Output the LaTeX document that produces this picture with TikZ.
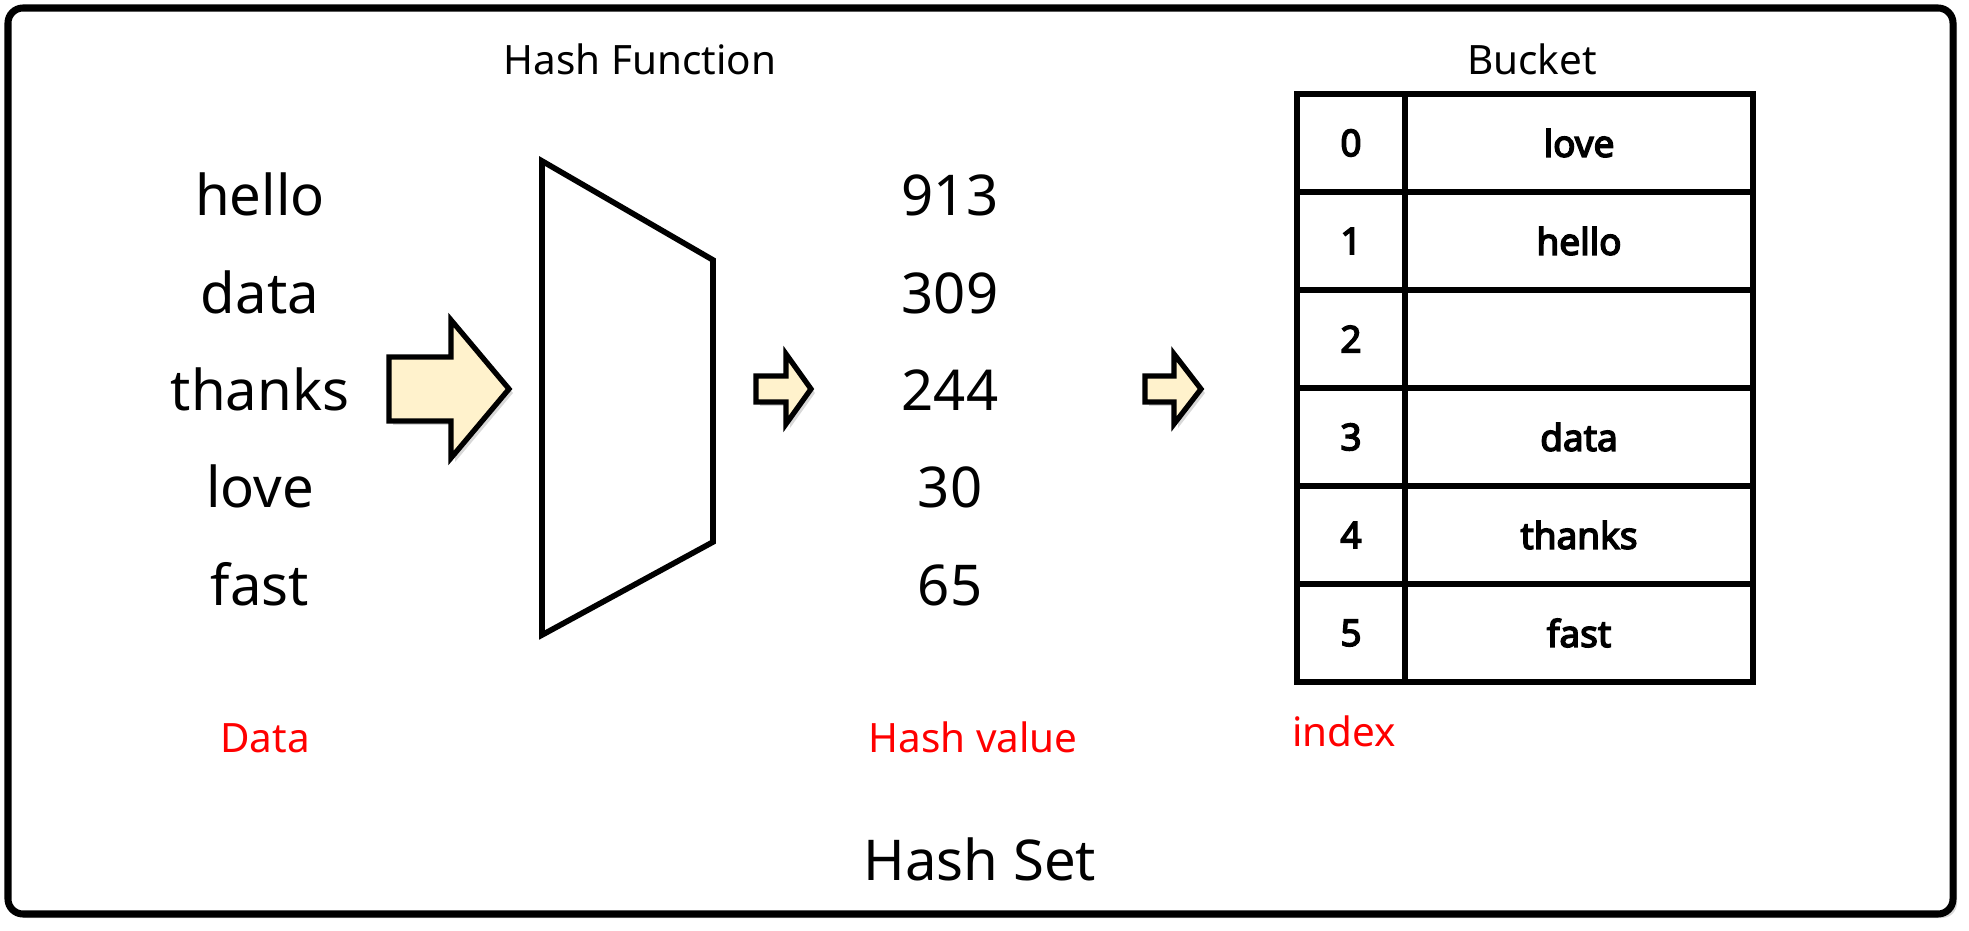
\documentclass[tikz,border=0pt]{standalone}
\usepackage{fontspec}
\setmainfont{Noto Sans}
\newfontfamily\cellfont{Noto Sans}[FakeBold=4]
\usetikzlibrary{shadows, positioning}
\definecolor{arrowfill}{HTML}{FFF2CC}

\tikzset{
  word/.style={font=\fontsize{16}{18}\selectfont, inner sep=0pt},
  small/.style={font=\fontsize{11.5}{13}\selectfont, inner sep=0pt},
  redlabel/.style={small, text=red},
  cell/.style={rectangle, draw, line width=1.7pt, inner sep=0pt, minimum height=0.98cm, font=\cellfont\fontsize{10.5}{12}\selectfont},
  blockarrow/.style={draw, line width=1.5pt, fill=arrowfill, line join=miter, drop shadow={shadow xshift=0.04cm, shadow yshift=-0.04cm, opacity=0.3}},
}

\begin{document}
\begin{tikzpicture}[x=0.01cm, y=-0.01cm]
    \useasboundingbox (0,0) rectangle (1969,931);

    % frame
    \path[draw, fill=white, line width=2pt, rounded corners=0.15cm, drop shadow={shadow xshift=0.04cm, shadow yshift=-0.04cm, opacity=0.3}] (8,8) rectangle (1953,914);

    % data words and hash values
    \foreach \w/\v [count=\i from 0] in {hello/913, data/309, thanks/244, love/30, fast/65} {
        \node (d\i) [word, anchor=base] at (260, {216+97.3*\i}) {\w};
        \node (h\i) [word, anchor=base] at (950, {216+97.3*\i}) {\v};
    }

    % hash function
    \node (hashfn) [small, anchor=base] at (640,75) {Hash Function};
    \draw[line width=1.6pt, line join=miter] (542,161) -- (713,260) -- (713,542) -- (542,635) -- cycle;

    % arrows
    \draw[blockarrow] (389,357) -- (451,357) -- (451,320) -- (509,389) -- (451,458) -- (451,421) -- (389,421) -- cycle;
    \draw[blockarrow] (756,376) -- ++(30,0) -- ++(0,-22) -- ++(25,35) -- ++(-25,35) -- ++(0,-22) -- ++(-30,0) -- cycle;
    \draw[blockarrow] (1145,376) -- ++(29,0) -- ++(0,-22) -- ++(27,35) -- ++(-27,35) -- ++(0,-22) -- ++(-29,0) -- cycle;

    % bucket
    \node (bucket) [small, anchor=base] at (1532,75) {Bucket};
    \foreach \v [count=\i from 0] in {love, hello, , data, thanks, fast} {
        \node (idx\i) [cell, minimum width=1.08cm] at (1351, {143+98*\i}) {\i};
        \node (val\i) [cell, minimum width=3.48cm] at (1579, {143+98*\i}) {\v};
    }

    % labels
    \node (datalbl) [redlabel, anchor=base] at (265,753) {Data};
    \node (hashlbl) [redlabel, anchor=base] at (973,753) {Hash value};
    \node (idxlbl) [redlabel, anchor=base] at (1344,747) {index};
    \node (hashset) [word, anchor=base] at (980,881) {Hash Set};
\end{tikzpicture}
\end{document}
